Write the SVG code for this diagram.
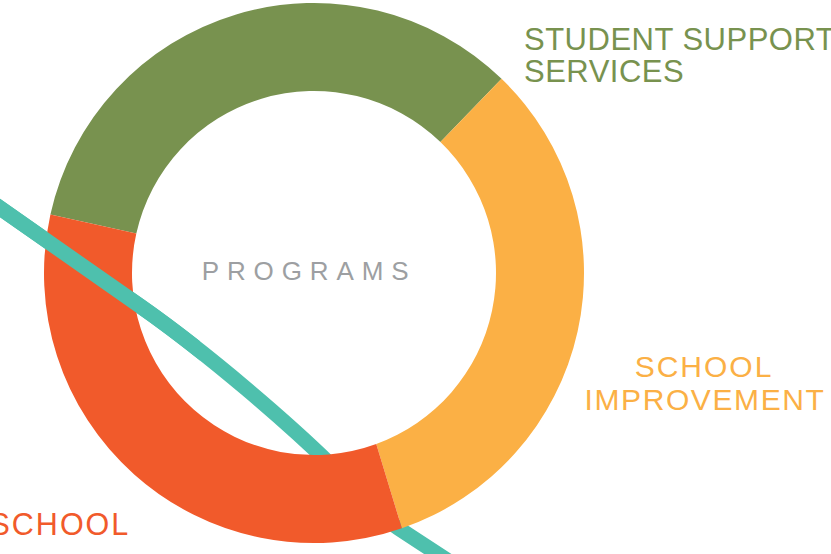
<svg xmlns="http://www.w3.org/2000/svg" width="831" height="554" viewBox="0 0 831 554">
  <style>
    .lbl { font-family: "Liberation Sans", Arial, sans-serif; }
    .teal { fill: none; stroke: #4EC0AD; stroke-width: 15; }
  </style>
  <defs>
    <clipPath id="leftClip"><rect x="-20" y="0" width="220" height="554"/></clipPath>
    <path id="tealPath" d="M -10,201 L 140,306 C 210,355 290,425 330,464 C 360,493 375,513 398,528 L 450,562"/>
  </defs>
  <rect width="831" height="554" fill="#ffffff"/>
  <g id="connectors">
    <use href="#tealPath" class="teal"/>
  </g>
  <g id="student-support">
    <path d="M 50.4,214.56 A 270 270 0 0 1 501.56,78.78 L 440.43,142.08 A 182 182 0 0 0 136.31,233.61 Z" fill="#78924F"/>
    <text class="lbl" x="524" y="49.5" font-size="31" letter-spacing="0.5" fill="#78924F">STUDENT SUPPORT</text>
    <text class="lbl" x="524" y="81.5" font-size="31" letter-spacing="0.5" fill="#78924F">SERVICES</text>
  </g>
  <g id="school-improvement">
    <path d="M 501.56,78.78 A 270 270 0 0 1 401.9,528.3 L 376.25,444.02 A 182 182 0 0 0 440.43,142.08 Z" fill="#FBB045"/>
    <text class="lbl" x="704" y="377.3" font-size="30" letter-spacing="2" text-anchor="middle" fill="#FBB045">SCHOOL</text>
    <text class="lbl" x="705" y="409.8" font-size="30" letter-spacing="1.6" text-anchor="middle" fill="#FBB045">IMPROVEMENT</text>
  </g>
  <g id="school">
    <path d="M 401.9,528.3 A 270 270 0 0 1 50.4,214.56 L 136.31,233.61 A 182 182 0 0 0 376.25,444.02 Z" fill="#F15A2B"/>
    <text class="lbl" x="-10.5" y="535" font-size="30.5" letter-spacing="2" fill="#F15A2B">SCHOOL</text>
  </g>
  <g id="connectors-over" clip-path="url(#leftClip)">
    <use href="#tealPath" class="teal"/>
  </g>
  <g id="programs">
    <text class="lbl" x="201.7" y="280" font-size="26" letter-spacing="7.9" fill="#9D9FA2">PROGRAMS</text>
  </g>
</svg>
